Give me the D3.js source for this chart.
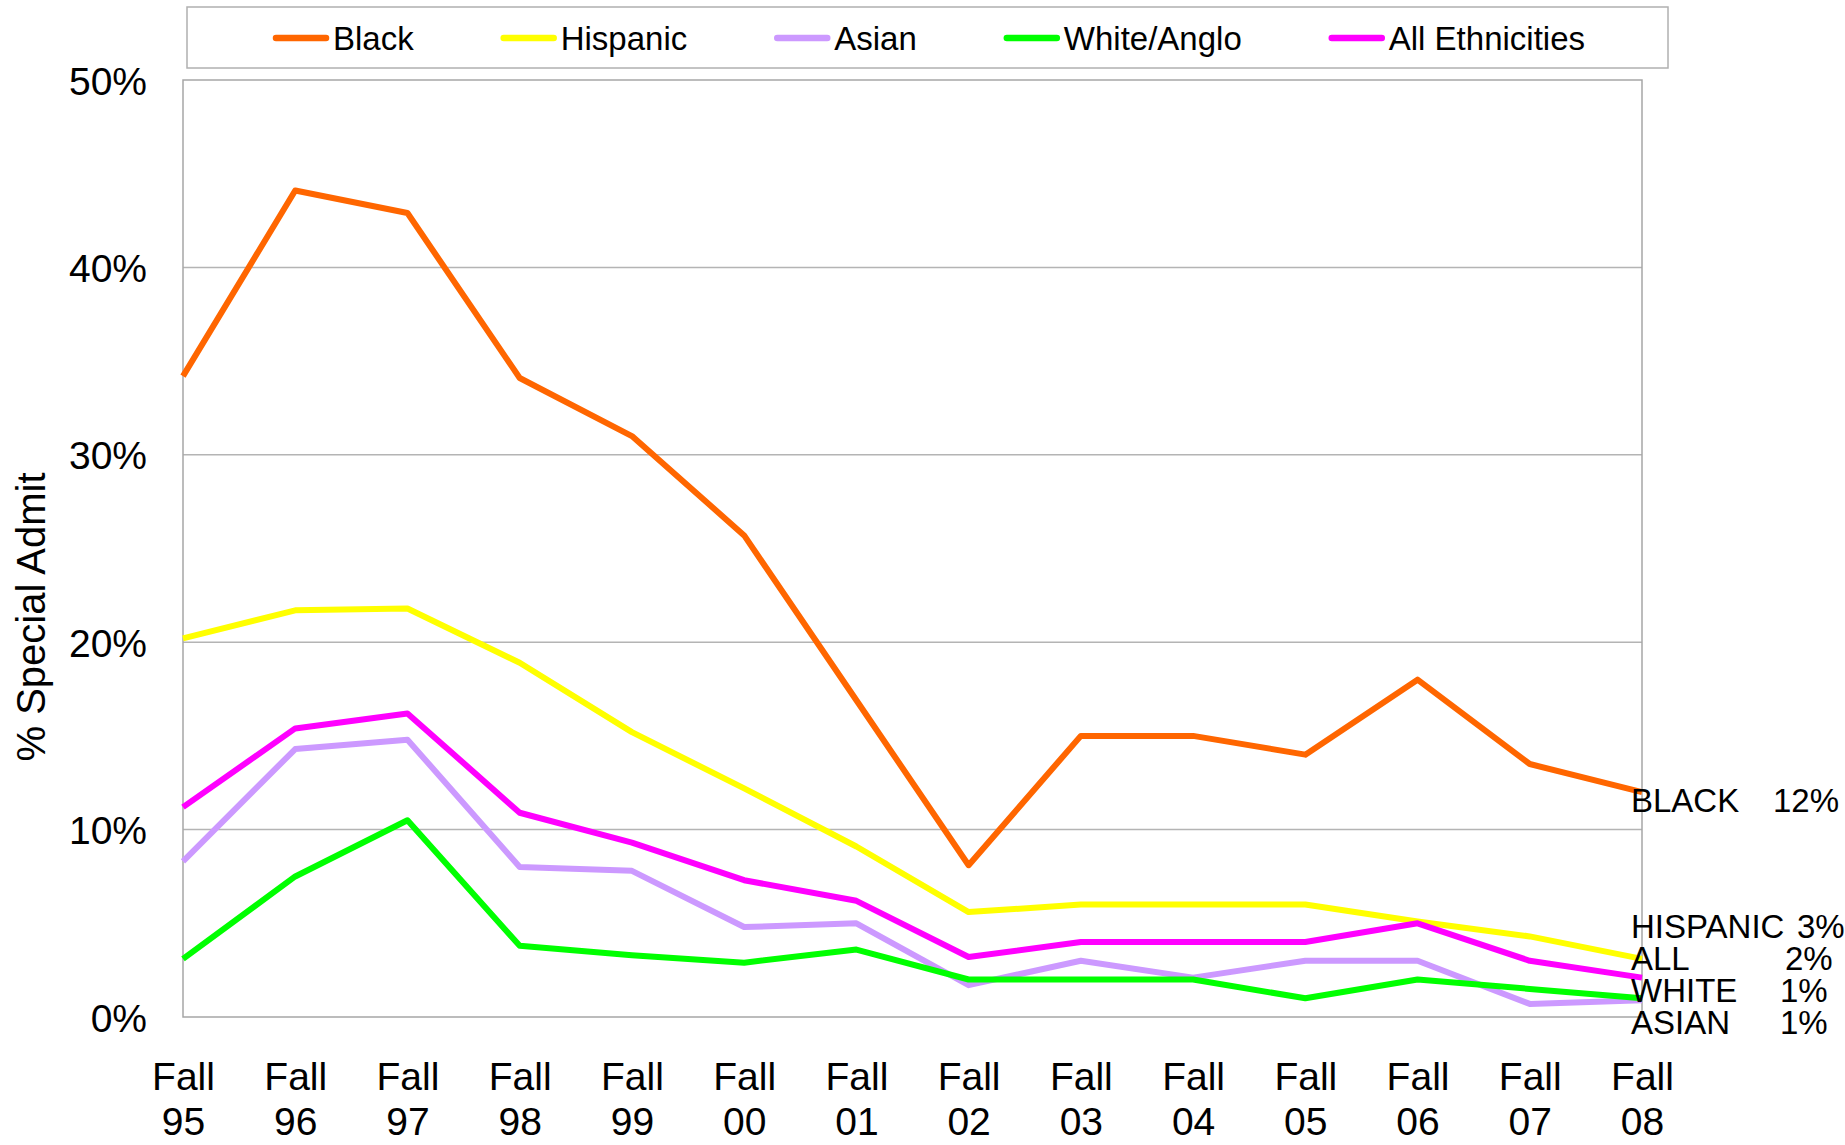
<!DOCTYPE html>
<html>
<head>
<meta charset="utf-8">
<script src="https://cdn.jsdelivr.net/npm/d3@7"></script>
<style>
  body { margin: 0; background: #fff; }
  text { font-family: "Liberation Sans", Arial, sans-serif; fill: #000; }
</style>
</head>
<body>
<svg id="chart" width="1845" height="1145"></svg>
<script>
// data (percent special admit)
let terms = ["95", "96", "97", "98", "99", "00", "01", "02", "03", "04", "05", "06", "07", "08"];
let black = [34.2, 44.1, 42.9, 34.1, 31.0, 25.7, 16.9, 8.1, 15.0, 15.0, 14.0, 18.0, 13.5, 12.0];
let hispanic = [20.2, 21.7, 21.8, 18.9, 15.2, 12.2, 9.1, 5.6, 6.0, 6.0, 6.0, 5.1, 4.3, 3.1];
let asian = [8.3, 14.3, 14.8, 8.0, 7.8, 4.8, 5.0, 1.7, 3.0, 2.1, 3.0, 3.0, 0.7, 0.9];
let white = [3.1, 7.5, 10.5, 3.8, 3.3, 2.9, 3.6, 2.0, 2.0, 2.0, 1.0, 2.0, 1.5, 1.0];
let allEth = [11.2, 15.4, 16.2, 10.9, 9.3, 7.3, 6.2, 3.2, 4.0, 4.0, 4.0, 5.0, 3.0, 2.1];

let seriesNames = ["Black", "Hispanic", "Asian", "White/Anglo", "All Ethnicities"];
let seriesColors = ["#ff6600", "#ffff00", "#cc99ff", "#00ff00", "#ff00ff"];
let yTicks = [0, 10, 20, 30, 40, 50];

let endNames = ["BLACK", "HISPANIC", "ALL", "WHITE", "ASIAN"];
let endValues = ["12%", "3%", "2%", "1%", "1%"];

let series = [black, hispanic, asian, white, allEth];

let svg = d3.select("#chart");
let margin = { top: 80, right: 203, bottom: 128, left: 183 };
let width = +svg.attr("width") - margin.left - margin.right;
let height = +svg.attr("height") - margin.top - margin.bottom;

let g = svg.append("g")
  .attr("transform", "translate(" + margin.left + "," + margin.top + ")");

let x = d3.scalePoint().domain(terms).range([0, width]);
let y = d3.scaleLinear().domain([0, 50]).range([height, 0]);

// gridlines
g.append("g")
  .selectAll("line")
  .data(yTicks.slice(1, -1))
  .enter()
  .append("line")
  .attr("x1", 0)
  .attr("x2", width)
  .attr("y1", (d) => y(d))
  .attr("y2", (d) => y(d))
  .attr("stroke", "#b4b4b4")
  .attr("stroke-width", 1.5);

// plot frame
g.append("rect")
  .attr("width", width)
  .attr("height", height)
  .attr("fill", "none")
  .attr("stroke", "#a6a6a6")
  .attr("stroke-width", 1.5);

// y axis labels
let yAxis = g.append("g").call(d3.axisLeft(y).tickValues(yTicks).tickFormat((d) => d + "%").tickSize(0).tickPadding(36));
yAxis.select(".domain").remove();
yAxis.selectAll("text")
  .style("font-size", "39px")
  .style("font-family", "'Liberation Sans', Arial, sans-serif")
  .attr("dy", "0.36em");

// x axis labels, two lines
let xAxis = g.append("g")
  .attr("transform", "translate(0," + height + ")")
  .call(d3.axisBottom(x).tickSize(0).tickFormat(""));
xAxis.select(".domain").remove();
xAxis.selectAll(".tick").each(function (d) {
  let t = d3.select(this).append("text")
    .attr("text-anchor", "middle")
    .style("font-size", "39px");
  t.append("tspan").attr("x", 0).attr("y", 73).text("Fall");
  t.append("tspan").attr("x", 0).attr("y", 118).text(d);
});

// lines
let line = d3.line()
  .x((d, i) => x(terms[i]))
  .y((d) => y(d));

series.forEach(function (s, i) {
  g.append("path")
    .datum(s)
    .attr("fill", "none")
    .attr("stroke", seriesColors[i])
    .attr("stroke-width", 6)
    .attr("stroke-linejoin", "round")
    .attr("d", line);
});

// y axis title
svg.append("text")
  .attr("transform", "translate(45,617) rotate(-90)")
  .attr("text-anchor", "middle")
  .style("font-size", "40px")
  .text("% Special Admit");

// end labels (stacked tightly like the original)
let labelX = margin.left + width - 11;
let endRows = [y(12) + 20];
for (let i = 1; i < endNames.length; i++) {
  endRows.push(y(3) - 23 + (i - 1) * 32);
}
let valueX = [1773, 1797, 1785, 1780, 1780];
endNames.forEach(function (name, i) {
  svg.append("text")
    .attr("x", labelX)
    .attr("y", margin.top + endRows[i])
    .style("font-size", "33px")
    .text(name);
  svg.append("text")
    .attr("x", valueX[i])
    .attr("y", margin.top + endRows[i])
    .style("font-size", "33px")
    .text(endValues[i]);
});

// legend
let legend = svg.append("g").attr("class", "legend");
legend.append("rect")
  .attr("x", 187)
  .attr("y", 7)
  .attr("width", 1481)
  .attr("height", 61)
  .attr("fill", "#fff")
  .attr("stroke", "#b0b0b0")
  .attr("stroke-width", 1.5);

let lx = 276;
seriesNames.forEach(function (name, i) {
  let item = legend.append("g").attr("transform", "translate(" + lx + ",38)");
  item.append("line")
    .attr("x1", 0)
    .attr("x2", 50)
    .attr("stroke", seriesColors[i])
    .attr("stroke-width", 6.5)
    .attr("stroke-linecap", "round");
  let t = item.append("text")
    .attr("x", 57)
    .attr("y", 12)
    .style("font-size", "33px")
    .text(name);
  lx += 57 + t.node().getComputedTextLength() + 90;
});
</script>
</body>
</html>
